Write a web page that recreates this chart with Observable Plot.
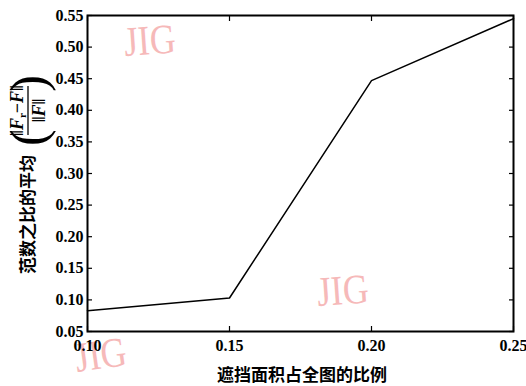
<!DOCTYPE html>
<html><head><meta charset="utf-8">
<script src="https://cdn.jsdelivr.net/npm/d3@7"></script>
<script src="https://cdn.jsdelivr.net/npm/@observablehq/plot@0.6"></script>
<style>body{margin:0;background:#fff}
g[aria-label="x-axis tick label"], g[aria-label="y-axis tick label"]{font-family:"Liberation Serif",serif !important;font-weight:bold;font-size:16px;font-variant:normal !important}
</style>
</head><body><div id="chart"></div>
<script>
const ratios = [0.10, 0.15, 0.20, 0.25];
const meanNormRatio = [0.083, 0.103, 0.447, 0.545];
const xTicks = [0.10, 0.15, 0.20, 0.25];
const yTicks = [0.05, 0.10, 0.15, 0.20, 0.25, 0.30, 0.35, 0.40, 0.45, 0.50, 0.55];
const xLabel = "遮挡面积占全图的比例";
const yLabel = "范数之比的平均";
const data = ratios.map((r, i) => ({r, v: meanNormRatio[i]}));
const fmt = d3.format(".2f");
const tickFont = {fontSize: 16, fontWeight: "bold", fontFamily: "Liberation Serif"};

const plot = Plot.plot({
  width: 526, height: 386,
  marginLeft: 87, marginRight: 13, marginTop: 15, marginBottom: 55,
  style: {background: "#fff", color: "#000", fontFamily: "Liberation Serif"},
  x: {domain: [0.10, 0.25]},
  y: {domain: [0.05, 0.55]},
  marks: [
    Plot.axisX({ticks: xTicks, tickSize: 0, tickPadding: 8, tickFormat: fmt, label: null, ...tickFont}),
    Plot.axisY({ticks: yTicks, tickSize: 0, tickPadding: 4, tickFormat: fmt, label: null, ...tickFont}),
    Plot.axisX({ticks: xTicks, anchor: "bottom", tickSize: -5, tickFormat: () => "", label: null, strokeWidth: 1.2}),
    Plot.axisX({ticks: xTicks, anchor: "top", tickSize: -5, tickFormat: () => "", label: null, strokeWidth: 1.2}),
    Plot.axisY({ticks: yTicks, anchor: "left", tickSize: -5, tickFormat: () => "", label: null, strokeWidth: 1.2}),
    Plot.axisY({ticks: yTicks, anchor: "right", tickSize: -5, tickFormat: () => "", label: null, strokeWidth: 1.2}),
    Plot.frame({stroke: "#000", strokeWidth: 2}),
    Plot.line(data, {x: "r", y: "v", stroke: "#000", strokeWidth: 1.5})
  ]
});
document.getElementById("chart").appendChild(plot);

const svg = d3.select(plot);
const cjk = "'Noto Sans CJK SC', sans-serif";
// watermarks
const wm = [[125, 56, -4], [318, 306, -4], [77, 372, -8]];
wm.forEach(([x, y, a]) => svg.insert("text", ":first-child").attr("transform", `translate(${x},${y}) rotate(${a}) scale(0.85,1)`)
  .attr("text-anchor", "start").attr("font-family", "Liberation Serif").attr("font-size", 42)
  .attr("fill", "#f5a8a8").attr("opacity", 0.8).text("JIG"));

// x label
svg.append("text").attr("x", 302).attr("y", 381).attr("text-anchor", "middle")
  .attr("font-family", cjk).attr("font-weight", "bold").attr("font-size", 17).text(xLabel);

// y label (rotated)
const g = svg.append("g").attr("transform", "translate(28,274) rotate(-90)").attr("text-anchor", "start");
g.append("text").attr("x", 0).attr("y", 6).attr("font-family", cjk).attr("font-weight", "bold")
  .attr("font-size", 17).text(yLabel);
const fx0 = 128, fx1 = 199, fc = (fx0 + fx1) / 2;
g.append("text").attr("x", fx0).attr("y", 0).attr("dominant-baseline", "central").attr("text-anchor", "start")
  .attr("font-family", "Liberation Serif").attr("font-size", 50).text("(");
g.append("text").attr("x", fx1).attr("y", 0).attr("dominant-baseline", "central").attr("text-anchor", "end")
  .attr("font-family", "Liberation Serif").attr("font-size", 50).text(")");
g.append("line").attr("x1", fx0 + 11).attr("x2", fx1 - 11).attr("y1", 0).attr("y2", 0).attr("stroke", "#000").attr("stroke-width", 1.3);
const num = g.append("text").attr("x", fc).attr("y", -5).attr("text-anchor", "middle")
  .attr("font-family", "Liberation Serif").attr("font-weight", "bold").attr("font-size", 18);
num.append("tspan").text("‖");
num.append("tspan").attr("font-style", "italic").text("F");
num.append("tspan").attr("font-size", 11).attr("dy", 3).text("r");
num.append("tspan").attr("dy", -3).text("−");
num.append("tspan").attr("font-style", "italic").text("F");
num.append("tspan").text("‖");
const den = g.append("text").attr("x", fc).attr("y", 17).attr("text-anchor", "middle")
  .attr("font-family", "Liberation Serif").attr("font-weight", "bold").attr("font-size", 18);
den.append("tspan").text("‖");
den.append("tspan").attr("font-style", "italic").text("F");
den.append("tspan").text("‖");
</script></body></html>
